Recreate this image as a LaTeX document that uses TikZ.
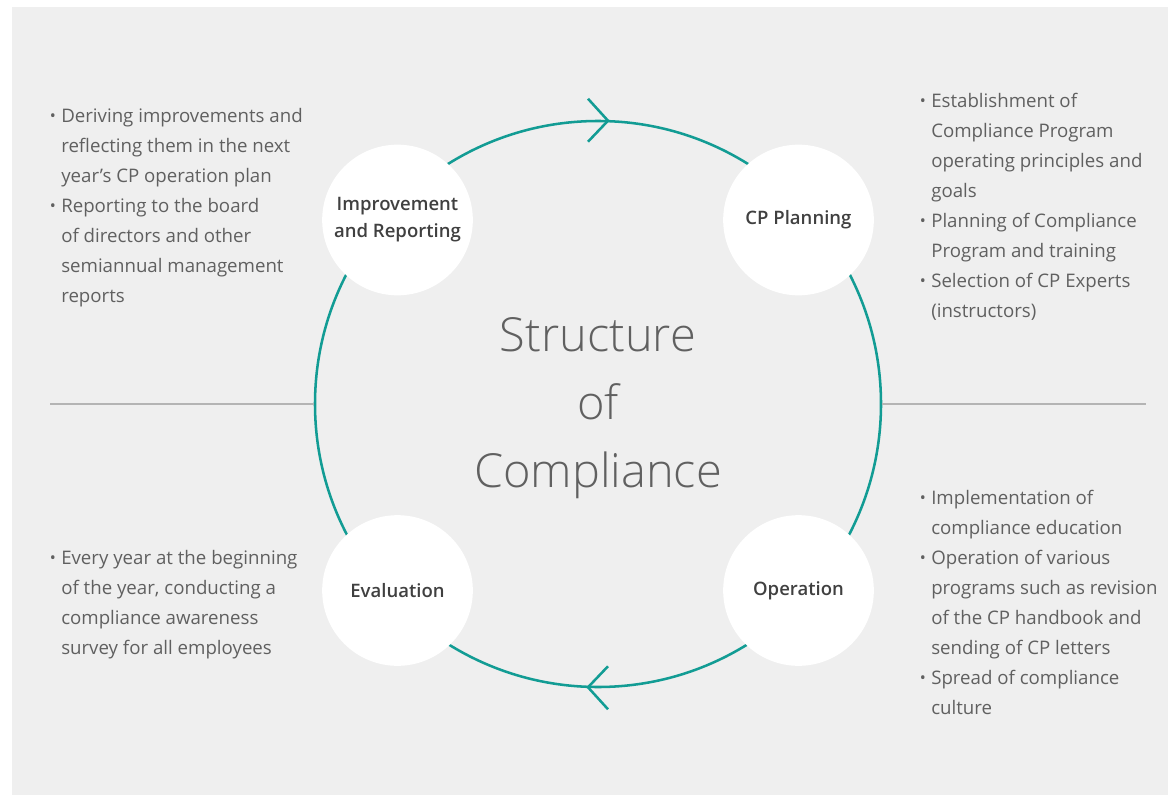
\documentclass[tikz,border=0pt]{standalone}
\usepackage{fontspec}
\usepackage{xcolor}
\usepackage{tikz}
\usetikzlibrary{shapes,arrows,positioning}

\setmainfont{Open Sans}[UprightFont={* Light}, BoldFont={* Semibold}]
\newfontfamily\notefont{Open Sans}

\definecolor{panelgrey}{HTML}{EFEFEF}
\definecolor{cycleteal}{RGB}{18,156,148}
\definecolor{notegrey}{HTML}{606060}
\definecolor{headgrey}{HTML}{404040}
\definecolor{rulegrey}{HTML}{B4B4B4}

\newcommand{\bul}{\llap{\raisebox{0.1ex}{\fontsize{12}{12}\selectfont\textbullet}\hspace{4pt}}}

\begin{document}
\begin{tikzpicture}[
        x=0.75pt, y=-0.75pt,
        stage/.style={circle, fill=white, minimum size=113pt, inner sep=0pt, align=center, text=headgrey, font=\fontsize{13.9}{20.3}\selectfont\bfseries},
        ring/.style={circle, draw=cycleteal, line width=1.9pt, minimum size=424.5pt, inner sep=0pt},
        note/.style={anchor=north west, inner sep=0pt, align=left, text=notegrey, font=\notefont\fontsize{14}{22.5}\selectfont},
        chevron/.style={draw=cycleteal, line width=1.9pt},
        divider/.style={draw=rulegrey, line width=0.8pt}
    ]
        \useasboundingbox (0,0) rectangle (1168,795);
        \fill[panelgrey] (12,7) rectangle (1168,795);

        % Cycle ring and title
        \node[ring] (ring) at (598,404) {};
        \node[align=center, text=notegrey, font=\fontsize{35.2}{51}\selectfont] (title) at (598,408) {Structure\\of\\Compliance};

        % Dividers
        \coordinate (leftend) at (50,404);
        \coordinate (rightend) at (1146,404);
        \draw[divider] (leftend) -- (ring.west);
        \draw[divider] (ring.east) -- (rightend);

        % Direction marks
        \draw[chevron] ([shift={(-10,-21)}]ring.north) -- ([shift={(10,1)}]ring.north) -- ([shift={(-10,22)}]ring.north);
        \draw[chevron] ([shift={(10,-22)}]ring.south) -- ([shift={(-10,-1)}]ring.south) -- ([shift={(10,21)}]ring.south);

        % Stages
        \node[stage] (improve) at (397.5,220) {Improvement\\and Reporting};
        \node[stage] (plan) at (798.5,220) {CP Planning};
        \node[stage] (operate) at (798.5,590.5) {Operation};
        \node[stage] (evaluate) at (397.5,590.5) {Evaluation};

        % Notes
        \node[note] (improvenote) at (61,108) {\bul Deriving improvements and\\reflecting them in the next\\year’s CP operation plan\\\bul Reporting to the board\\of directors and other\\semiannual management\\reports};
        \node[note] (plannote) at (931,93) {\bul Establishment of\\Compliance Program\\operating principles and\\goals\\\bul Planning of Compliance\\Program and training\\\bul Selection of CP Experts\\(instructors)};
        \node[note] (operatenote) at (931,490) {\bul Implementation of\\compliance education\\\bul Operation of various\\programs such as revision\\of the CP handbook and\\sending of CP letters\\\bul Spread of compliance\\culture};
        \node[note] (evaluatenote) at (61,550) {\bul Every year at the beginning\\of the year, conducting a\\compliance awareness\\survey for all employees};
    \end{tikzpicture}
\end{document}
